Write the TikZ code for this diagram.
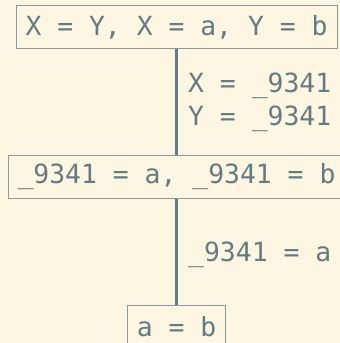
\documentclass[tikz,border=0pt]{standalone}
\usepackage{fontspec}
\setmonofont{DejaVu Sans Mono}
\usepackage{xcolor}
\usepackage{tikz}
\usetikzlibrary{positioning}
\definecolor{paperBg}{HTML}{FDF6E3}
\definecolor{inkGray}{HTML}{657B83}
\definecolor{rimGray}{HTML}{8A9A9E}

\begin{document}
\begin{tikzpicture}[x=1pt, y=-1pt,
  font=\ttfamily\fontsize{26.4}{33}\selectfont, text=inkGray,
  bx/.style={draw=rimGray, line width=1pt, inner sep=0pt, minimum height=42.7pt},
  lnk/.style={draw=inkGray, line width=2.2pt},
  lbl/.style={anchor=north west, align=left, inner sep=0pt}]
\fill[paperBg] (0,0) rectangle (340,343);
\useasboundingbox (0,0) rectangle (340,343);
\node[bx, minimum width=321pt] (goal) at (176.5,27.3) {X = Y, X = a, Y = b};
\node[bx, minimum width=336pt] (step) at (176.5,177) {\_9341 = a, \_9341 = b};
\node[bx, minimum width=98.4pt] (fail) at (176.5,327) {a = b};
\draw[lnk] (goal) -- (step);
\draw[lnk] (step) -- (fail);
\node[lbl] (subA) at (188,73) {X = \_9341\\Y = \_9341};
\node[lbl] (subB) at (188,242) {\_9341 = a};
\end{tikzpicture}
\end{document}
